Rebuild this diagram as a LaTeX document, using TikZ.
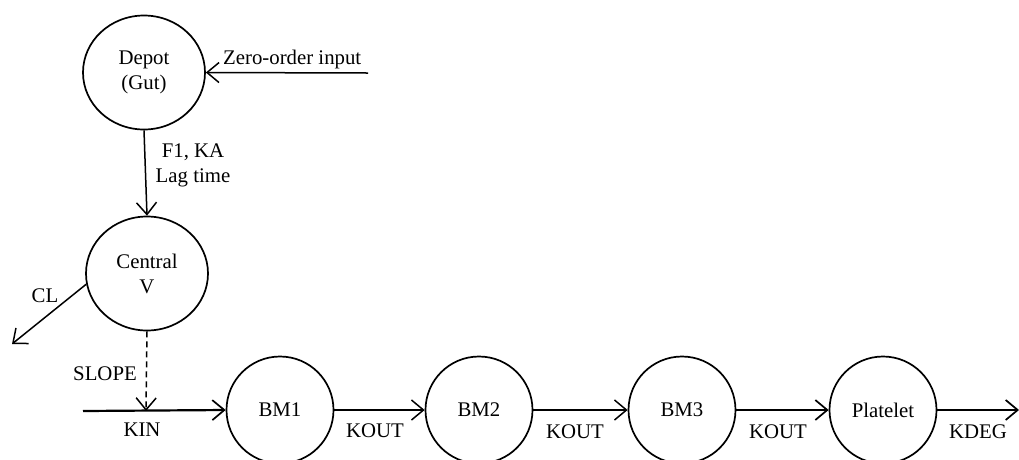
\documentclass[tikz,border=0pt]{standalone}
\usepackage{fontspec}
\setmainfont{Liberation Serif}
\usetikzlibrary{arrows.meta,shapes.geometric}
\begin{document}
\begin{tikzpicture}[x=1pt,y=-1pt,
  every node/.style={font=\fontsize{20.8}{25}\selectfont, inner sep=0pt},
  bigcomp/.style={draw, ellipse, line width=1.7pt, minimum width=122pt, minimum height=114pt, align=center},
  smallcomp/.style={draw, circle, line width=1.7pt, minimum size=107pt},
  arr/.style={line width=1.5pt, -{Straight Barb[length=12pt,width=20pt,line width=1.5pt]}},
  thickarr/.style={line width=2.2pt, -{Straight Barb[length=12pt,width=20pt,line width=1.7pt]}},
  lbl/.style={anchor=center}
]
\useasboundingbox (0,0) rectangle (1019,459);
\clip (0,0) rectangle (1019,459);

\node[bigcomp] (depot) at (144,72.5) {Depot\\(Gut)};
\node[bigcomp] (central) at (147,273.5) {Central\\V};
\node[smallcomp] (bm1) at (280,410) {BM1};
\node[smallcomp] (bm2) at (479,410) {BM2};
\node[smallcomp] (bm3) at (682,410) {BM3};
\node[smallcomp] (plt) at (883,410) {Platelet};

\coordinate (zin) at (368,73);
\coordinate (clend) at (12,344);
\coordinate (kinstart) at (83,411);
\coordinate (slopeend) at (146,411);
\coordinate (kdegend) at (1019,410);

\draw[arr] (zin) -- (depot.east);
\node[anchor=base west] (zlbl) at (223,64) {Zero-order input};

\draw[arr] (depot.south) -- (central.north);
\node[lbl] (f1) at (193,152) {F1, KA};
\node[lbl] (lag) at (193,178) {Lag time};

\draw[arr] (central.190) -- (clend);
\node[lbl] (cl) at (45,296) {CL};

\draw[arr, dash pattern=on 6pt off 4pt] (central.south) -- (slopeend);
\node[lbl] (slope) at (105,374) {SLOPE};

\draw[thickarr] (kinstart) -- (bm1.west);
\node[lbl] (kin) at (142,430) {KIN};

\draw[arr] (bm1.east) -- (bm2.west);
\node[lbl] (k1) at (375,431) {KOUT};
\draw[arr] (bm2.east) -- (bm3.west);
\node[lbl] (k2) at (575,432) {KOUT};
\draw[thickarr] (bm3.east) -- (plt.west);
\node[lbl] (k3) at (778,432) {KOUT};
\draw[thickarr] (plt.east) -- (kdegend);
\node[lbl] (kd) at (978,432) {KDEG};
\end{tikzpicture}
\end{document}
